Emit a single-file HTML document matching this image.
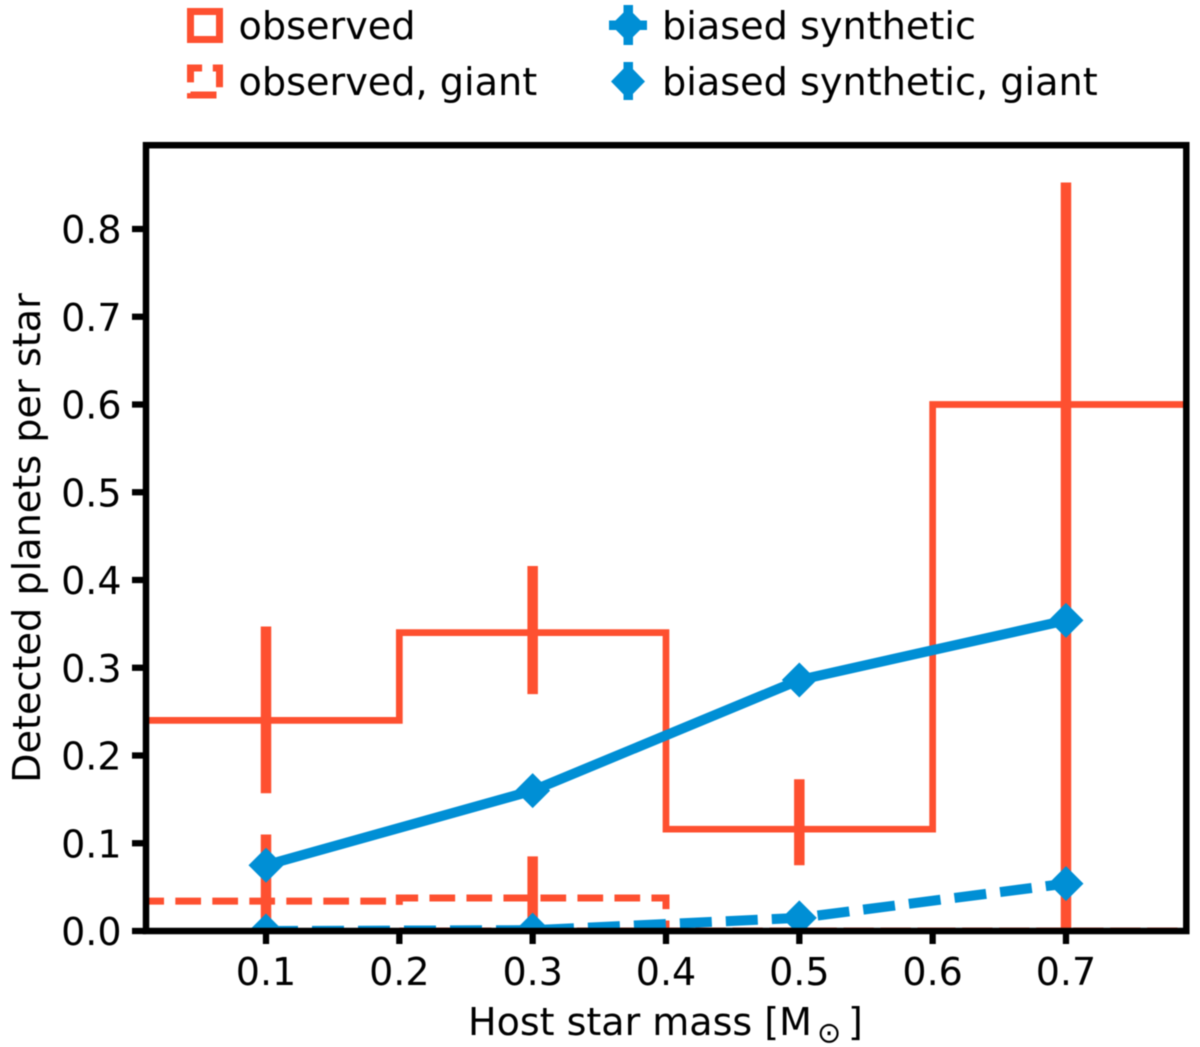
<!DOCTYPE html>
<html lang="en">
<head>
<meta charset="utf-8">
<title>Detected planets per star vs host star mass</title>
<style>
html,body{margin:0;padding:0;background:#fff;}
svg{display:block;font-family:"DejaVu Sans","Liberation Sans",sans-serif;fill:#000;filter:blur(0.5px);}
</style>
</head>
<body>
<svg id="chart" width="1200" height="1047" viewBox="0 0 1200 1047" xmlns="http://www.w3.org/2000/svg">
  <defs>
    <clipPath id="plot-clip"><rect x="146" y="145" width="1040" height="786"/></clipPath>
  </defs>
  <g id="plot" clip-path="url(#plot-clip)"></g>
  <g id="frame"></g>
  <g id="legend">
    <g>
      <rect x="190.5" y="11.5" width="29" height="28" fill="none" stroke="#fe5030" stroke-width="7"/>
      <text x="238.5" y="39" font-size="38.2">observed</text>
    </g>
    <g>
      <path d="M190.5 95 L219.5 95 L219.5 68 L190.5 68 Z" fill="none" stroke="#fe5030" stroke-width="7" stroke-dasharray="26 10.7"/>
      <text x="238.5" y="95" font-size="38.2">observed, giant</text>
    </g>
    <g>
      <rect x="609" y="20.5" width="38" height="9.5" fill="#008fd5"/>
      <rect x="623.5" y="5" width="9.5" height="40" fill="#008fd5"/>
      <path d="M628 8 L645 25 L628 42 L611 25 Z" fill="#008fd5"/>
      <text x="662" y="39" font-size="38.2">biased synthetic</text>
    </g>
    <g>
      <rect x="623.5" y="62" width="9.5" height="38" fill="#008fd5"/>
      <path d="M628 64 L645 81.5 L628 99 L611 81.5 Z" fill="#008fd5"/>
      <text x="662" y="95" font-size="38.2">biased synthetic, giant</text>
    </g>
  </g>
  <text transform="translate(40,538) rotate(-90)" text-anchor="middle" font-size="38.2">Detected planets per star</text>
  <g>
    <text x="468" y="1035" font-size="38">Host star mass [M</text>
    <text x="817" y="1042.5" font-size="29">⊙</text>
    <text x="848" y="1035" font-size="38">]</text>
  </g>
</svg>
<script>
const binEdges = [0, 0.2, 0.4, 0.6, 0.8];
const observedValues = [0.24, 0.34, 0.116, 0.6];
const observedGiantValues = [0.034, 0.0376, 0, 0];
const massCenters = [0.1, 0.3, 0.5, 0.7];
const observedErrLow = [0.157, 0.27, 0.075, 0];
const observedErrHigh = [0.347, 0.416, 0.173, 0.853];
const giantErrCenters = [0.1, 0.3];
const giantErrLow = [0, 0];
const giantErrHigh = [0.11, 0.085];
const syntheticValues = [0.075, 0.16, 0.286, 0.354];
const syntheticGiantValues = [0, 0.001, 0.015, 0.054];
const xTickValues = [0.1, 0.2, 0.3, 0.4, 0.5, 0.6, 0.7];
const yTickValues = [0, 0.1, 0.2, 0.3, 0.4, 0.5, 0.6, 0.7, 0.8];

const RED = '#fe5030';
const BLUE = '#008fd5';
const NS = 'http://www.w3.org/2000/svg';
function xScale(v) { return 266 + (v - 0.1) * 1333.3; }
function yScale(v) { return 931 - v * 877.5; }
function make(tag, parent, attrs) {
  const el = document.createElementNS(NS, tag);
  for (const k in attrs) el.setAttribute(k, attrs[k]);
  parent.appendChild(el);
  return el;
}
const plot = document.getElementById('plot');
const frame = document.getElementById('frame');

let stepD = 'M' + xScale(binEdges[0]) + ' ' + yScale(0);
observedValues.forEach(function (v, i) {
  stepD += ' L' + xScale(binEdges[i]) + ' ' + yScale(v) + ' L' + xScale(binEdges[i + 1]) + ' ' + yScale(v);
});
stepD += ' L' + xScale(binEdges[binEdges.length - 1]) + ' ' + yScale(0);
const stepPath = make('path', plot, { d: stepD, fill: 'none', stroke: RED, 'stroke-width': 6.7 });



massCenters.forEach(function (m, i) {
  const bar = make('line', plot, { x1: xScale(m), x2: xScale(m), y1: yScale(observedErrLow[i]), y2: yScale(observedErrHigh[i]), stroke: RED, 'stroke-width': 10.5 });
  
  
});

observedGiantValues.forEach(function (v, i) {
  const x0 = xScale(binEdges[i]);
  const x1 = xScale(binEdges[i + 1]);
  const d = i === 0
    ? 'M' + x1 + ' ' + yScale(v) + ' L' + x0 + ' ' + yScale(v)
    : 'M' + x0 + ' ' + yScale(0) + ' L' + x1 + ' ' + yScale(0) + ' L' + x1 + ' ' + yScale(v) + ' L' + x0 + ' ' + yScale(v) + ' L' + x0 + ' ' + (yScale(v) + 10);
  const bin = make('path', plot, { d: d, fill: 'none', stroke: RED, 'stroke-width': 7, 'stroke-dasharray': '25.7 11.3', 'stroke-dashoffset': i === 0 ? 23.7 : 7.5 });
  
  
});

giantErrCenters.forEach(function (m, i) {
  const bar = make('line', plot, { x1: xScale(m), x2: xScale(m), y1: yScale(giantErrLow[i]), y2: yScale(giantErrHigh[i]), stroke: RED, 'stroke-width': 10.5 });
  
  
});

function pointsOf(values) {
  return values.map(function (v, i) { return xScale(massCenters[i]) + ',' + yScale(v); }).join(' ');
}
const synLine = make('polyline', plot, { points: pointsOf(syntheticValues), fill: 'none', stroke: BLUE, 'stroke-width': 10 });


const synGiantLine = make('polyline', plot, { points: pointsOf(syntheticGiantValues), fill: 'none', stroke: BLUE, 'stroke-width': 10, 'stroke-dasharray': '32 14' });



function diamond(cx, cy) {
  const r = 17.5;
  return 'M' + cx + ' ' + (cy - r) + ' L' + (cx + r) + ' ' + cy + ' L' + cx + ' ' + (cy + r) + ' L' + (cx - r) + ' ' + cy + ' Z';
}
syntheticValues.forEach(function (v, i) {
  const pt = make('path', plot, { d: diamond(xScale(massCenters[i]), yScale(v)), fill: BLUE });
  
  
});
syntheticGiantValues.forEach(function (v, i) {
  const pt = make('path', plot, { d: diamond(xScale(massCenters[i]), yScale(v)), fill: BLUE });
  
  
});

xTickValues.forEach(function (t) {
  const x = xScale(t);
  const tick = make('line', frame, { x1: x, x2: x, y1: 931, y2: 944, stroke: '#000', 'stroke-width': 6.3 });
  
  
  const label = make('text', frame, { x: x, y: 985, 'text-anchor': 'middle', 'font-size': 38 });
  label.textContent = t.toFixed(1);
  
  
});
yTickValues.forEach(function (t) {
  const y = yScale(t);
  const tick = make('line', frame, { x1: 132, x2: 146, y1: y, y2: y, stroke: '#000', 'stroke-width': 6.3 });
  
  
  const label = make('text', frame, { x: 121.5, y: y + 14, 'text-anchor': 'end', 'font-size': 38 });
  label.textContent = t.toFixed(1);
  
  
});
const border = make('rect', frame, { x: 146, y: 145.2, width: 1040.3, height: 785.8, fill: 'none', stroke: '#000', 'stroke-width': 6.5 });


</script>
</body>
</html>
